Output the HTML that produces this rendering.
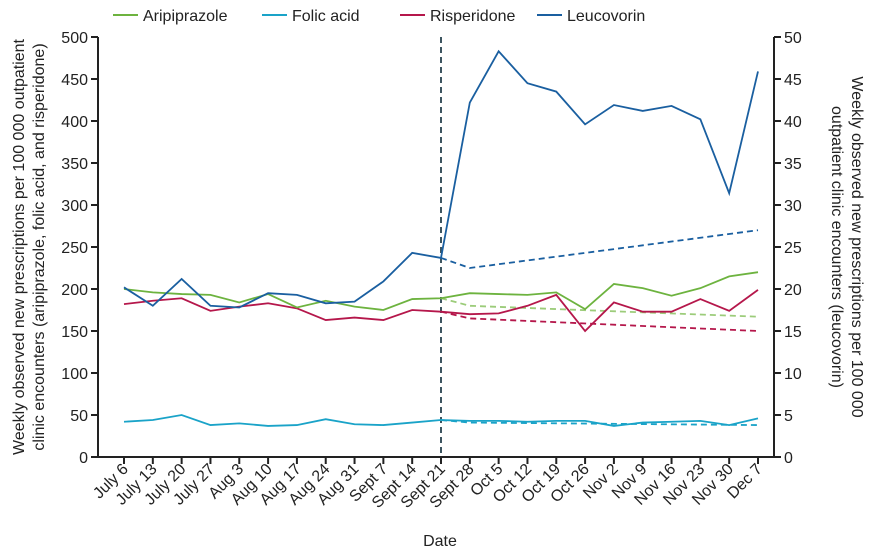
<!DOCTYPE html>
<html><head><meta charset="utf-8"><style>
body{margin:0;background:#fff;font-family:"Liberation Sans",sans-serif}
svg text{font-family:"Liberation Sans",sans-serif;fill:#222}
</style></head><body>
<svg id="c" width="878" height="550"></svg>
<script>
const dates=["July 6","July 13","July 20","July 27","Aug 3","Aug 10","Aug 17","Aug 24","Aug 31","Sept 7","Sept 14","Sept 21","Sept 28","Oct 5","Oct 12","Oct 19","Oct 26","Nov 2","Nov 9","Nov 16","Nov 23","Nov 30","Dec 7"];
const aripiprazole=[200,196,194,193,184,194,178,186,179,175,188,189,195,194,193,196,176,206,201,192,201,215,220];
const folicAcid=[42,44,50,38,40,37,38,45,39,38,41,44,43,43,42,43,43,37,41,42,43,38,46];
const risperidone=[182,186,189,174,179,183,177,163,166,163,175,173,170,171,180,193,150,184,173,173,188,174,199];
const leucovorin=[20.2,18,21.2,18,17.8,19.5,19.3,18.3,18.5,20.9,24.3,23.7,42.2,48.3,44.5,43.5,39.6,41.9,41.2,41.8,40.2,31.4,45.9];
const expAripiprazole=[189,180,167];
const expFolic=[44,41,38];
const expRisperidone=[173,165,150];
const expLeucovorin=[23.7,22.5,27];
const leftTicks=[0,50,100,150,200,250,300,350,400,450,500];
const rightTicks=[0,5,10,15,20,25,30,35,40,45,50];
const startIdx=11;
const NS="http://www.w3.org/2000/svg";
const svg=document.getElementById('c');
const X0=98,X1=774,Y0=457,Y1=37;
const x=i=>124+i*(758-124)/(dates.length-1);
const yL=v=>Y0-(v/500)*(Y0-Y1);
const yR=v=>Y0-(v/50)*(Y0-Y1);
function el(t,a,p){const e=document.createElementNS(NS,t);for(const k in a)e.setAttribute(k,a[k]);(p||svg).appendChild(e);return e;}
const G="#6db33f",F="#1aa3c8",R="#b5174b",L="#1a5fa0";
let e=el('line',{x1:X0,y1:Y1,x2:X0,y2:Y0,stroke:'#222','stroke-width':2});

e=el('line',{x1:X1,y1:Y1,x2:X1,y2:Y0,stroke:'#222','stroke-width':2});

e=el('line',{x1:X0,y1:Y0,x2:X1,y2:Y0,stroke:'#222','stroke-width':2});

leftTicks.forEach(v=>{el('line',{x1:X0-7,y1:yL(v),x2:X0,y2:yL(v),stroke:'#222','stroke-width':2});
 const t=el('text',{x:X0-10,y:yL(v)+6,'text-anchor':'end','font-size':16});t.textContent=v;
 });
rightTicks.forEach(v=>{el('line',{x1:X1,y1:yR(v),x2:X1+7,y2:yR(v),stroke:'#222','stroke-width':2});
 const t=el('text',{x:X1+10,y:yR(v)+6,'font-size':16});t.textContent=v;
 });
dates.forEach((d,i)=>{el('line',{x1:x(i),y1:Y0,x2:x(i),y2:Y0+7,stroke:'#222','stroke-width':2});
 const t=el('text',{x:x(i)+5,y:Y0+13,'text-anchor':'end','font-size':16,transform:`rotate(-45 ${x(i)+5} ${Y0+13})`});t.textContent=d;
 });
e=el('text',{x:440,y:546,'text-anchor':'middle','font-size':16});e.textContent='Date';

e=el('text',{'text-anchor':'middle','font-size':16,transform:'translate(24 247) rotate(-90)'});
e.innerHTML='<tspan x="0" dy="0">Weekly observed new prescriptions per 100 000 outpatient</tspan><tspan x="0" dy="20">clinic encounters (aripiprazole, folic acid, and risperidone)</tspan>';

e=el('text',{'text-anchor':'middle','font-size':16,transform:'translate(852 247) rotate(90)'});
e.innerHTML='<tspan x="0" dy="0">Weekly observed new prescriptions per 100 000</tspan><tspan x="0" dy="20">outpatient clinic encounters (leucovorin)</tspan>';

e=el('line',{x1:x(startIdx),y1:Y1,x2:x(startIdx),y2:Y0,stroke:'#3d5560','stroke-width':2,'stroke-dasharray':'6 4'});

function series(vals,fy,col,name){const p=el('polyline',{points:vals.map((v,i)=>x(i)+','+fy(v)).join(' '),fill:'none',stroke:col,'stroke-width':1.8});
 }
function exp(vals,fy,col,name){const xs=[startIdx,startIdx+1,dates.length-1];
 const p=el('polyline',{points:vals.map((v,i)=>x(xs[i])+','+fy(v)).join(' '),fill:'none',stroke:col,'stroke-width':1.8,'stroke-dasharray':'6 4'});
 }
exp(expFolic,yL,F,'folic-acid-expected');exp(expRisperidone,yL,R,'risperidone-expected');
exp(expAripiprazole,yL,'#9ccc7a','aripiprazole-expected');exp(expLeucovorin,yR,L,'leucovorin-expected');
series(folicAcid,yL,F,'folic-acid-line');series(risperidone,yL,R,'risperidone-line');
series(aripiprazole,yL,G,'aripiprazole-line');series(leucovorin,yR,L,'leucovorin-line');
[[113,'Aripiprazole',G],[262,'Folic acid',F],[400,'Risperidone',R],[537,'Leucovorin',L]].forEach(([lx,t,c])=>{
 const g=el('g',{});
 el('line',{x1:lx,y1:15,x2:lx+25,y2:15,stroke:c,'stroke-width':2},g);
 const tx=el('text',{x:lx+30,y:21,'font-size':16},g);tx.textContent=t;});
</script>
</body></html>
